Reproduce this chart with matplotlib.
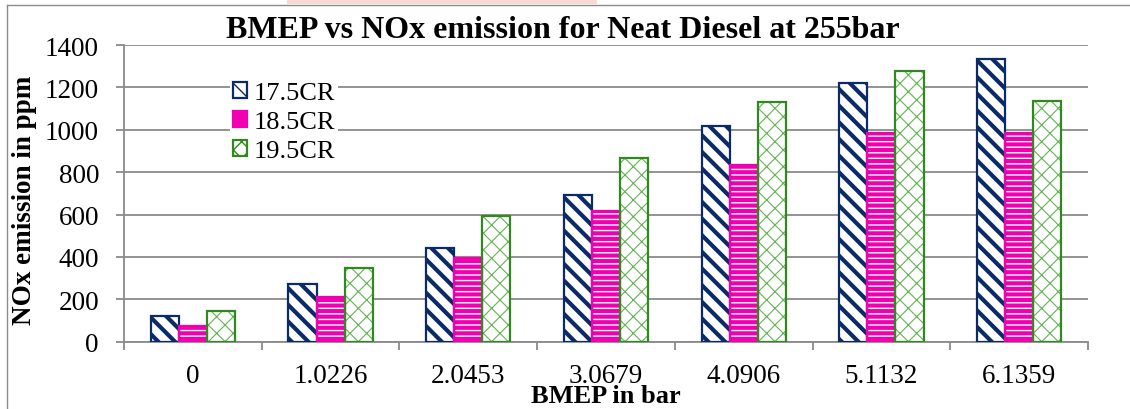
import numpy as np
import matplotlib.pyplot as plt
from matplotlib.patches import Patch, Rectangle
from matplotlib.lines import Line2D

# data
bmep_labels = ['0', '1.0226', '2.0453', '3.0679', '4.0906', '5.1132', '6.1359']
series_names = ['17.5CR', '18.5CR', '19.5CR']
nox_175 = [122, 270, 440, 694, 1016, 1220, 1332]
nox_185 = [74, 210, 393, 619, 833, 983, 983]
nox_195 = [145, 347, 592, 866, 1132, 1279, 1138]

NAVY = '#0B2A68'
MAGENTA = '#F000B0'
GREEN = '#2E8A1C'
LIGHT_GREEN = '#62B452'
GRAY = '#8A8A8A'
SERIF = ['Liberation Serif', 'DejaVu Serif']

plt.rcParams['font.family'] = SERIF


def hatched_bar(ax, x, h, width, face, hatch, hatch_color, hatch_lw, edge):
    with plt.rc_context({'hatch.linewidth': hatch_lw}):
        fill = ax.bar(x, h, width, color=face, edgecolor=hatch_color,
                      hatch=hatch, linewidth=0, zorder=3)
    for p in fill:
        if hasattr(p, 'set_hatch_linewidth'):
            p.set_hatch_linewidth(hatch_lw)
    ax.bar(x, h, width, fill=False, edgecolor=edge, linewidth=1.6, zorder=4)


def make_handle(face, hatch, hatch_color, hatch_lw, edge):
    with plt.rc_context({'hatch.linewidth': hatch_lw}):
        p = Patch(facecolor=face, edgecolor=edge, hatch=hatch, linewidth=1.6)
    if hasattr(p, 'set_hatch_linewidth'):
        p.set_hatch_linewidth(hatch_lw)
    return p


def plot_chart():
    fig = plt.figure(figsize=(11.3, 4.1), dpi=100)
    ax = fig.add_axes([124 / 1130, 1 - 342.7 / 410, 964 / 1130, 296.7 / 410])

    x = np.arange(len(bmep_labels))
    w = 0.204

    hatched_bar(ax, x - w, nox_175, w, 'white', '\\\\', NAVY, 3.0, NAVY)
    hatched_bar(ax, x, nox_185, w, MAGENTA, '---', 'white', 1.0, MAGENTA)
    hatched_bar(ax, x + w, nox_195, w, 'white', 'xx', LIGHT_GREEN, 0.8, GREEN)

    ax.set_xlim(-0.5, len(bmep_labels) - 0.5)
    ax.set_ylim(0, 1400)
    ax.set_yticks(np.arange(0, 1401, 200))
    ax.set_xticks(x)
    ax.set_xticklabels(bmep_labels)
    ax.set_xticks(np.arange(-0.5, len(bmep_labels)), minor=True)
    ax.tick_params(axis='x', which='major', length=0, pad=15, labelsize=19.5)
    ax.tick_params(axis='x', which='minor', length=6, width=1.3, color=GRAY)
    ax.tick_params(axis='y', length=6, width=1.3, color=GRAY, pad=12, labelsize=19.5)

    ax.grid(axis='y', color=GRAY, linewidth=1.3, zorder=0)
    ax.set_axisbelow(True)
    for side in ['top', 'right']:
        ax.spines[side].set_visible(False)
    for side in ['left', 'bottom']:
        ax.spines[side].set_color(GRAY)
        ax.spines[side].set_linewidth(1.3)
        ax.spines[side].set_zorder(2)

    ax.set_ylabel('NOx emission in ppm', fontsize=19.5, fontweight='bold')
    ax.yaxis.set_label_coords(-87 / 964, 0.48)
    ax.set_xlabel('BMEP in bar', fontsize=19, fontweight='bold')
    ax.xaxis.set_label_coords(0.5, -42 / 296.7)

    fig.text(563 / 1130, 1 - 31 / 410, 'BMEP vs NOx emission for Neat Diesel at 255bar',
             ha='center', va='center', fontsize=23, fontweight='bold')

    handles = [
        make_handle('white', '\\\\', NAVY, 3.0, NAVY),
        make_handle(MAGENTA, '---', 'white', 1.0, MAGENTA),
        make_handle('white', 'xx', LIGHT_GREEN, 0.8, GREEN),
    ]
    leg = ax.legend(handles, series_names, loc='upper left',
                    bbox_to_anchor=((230 - 124) / 964, 1 - (80 - 46) / 296.7),
                    fontsize=19, frameon=True, fancybox=False, framealpha=1,
                    edgecolor='none', handlelength=0.55, handleheight=0.55,
                    handletextpad=0.25, labelspacing=0.26, borderpad=0.1,
                    borderaxespad=0)
    leg.set_zorder(5)

    # outer chart border and the faint pink mark at the top edge
    fig.add_artist(Line2D([7 / 1130, 1], [1 - 5.5 / 410] * 2, color=GRAY, lw=1))
    fig.add_artist(Line2D([7 / 1130] * 2, [0, 1 - 5.5 / 410], color=GRAY, lw=1))
    fig.add_artist(Rectangle((287 / 1130, 1 - 5 / 410), 310 / 1130, 5 / 410,
                             transform=fig.transFigure, color='#F9D9D4', lw=0))

    fig.savefig('out.png', dpi=100)


if __name__ == "__main__":
    plot_chart()
